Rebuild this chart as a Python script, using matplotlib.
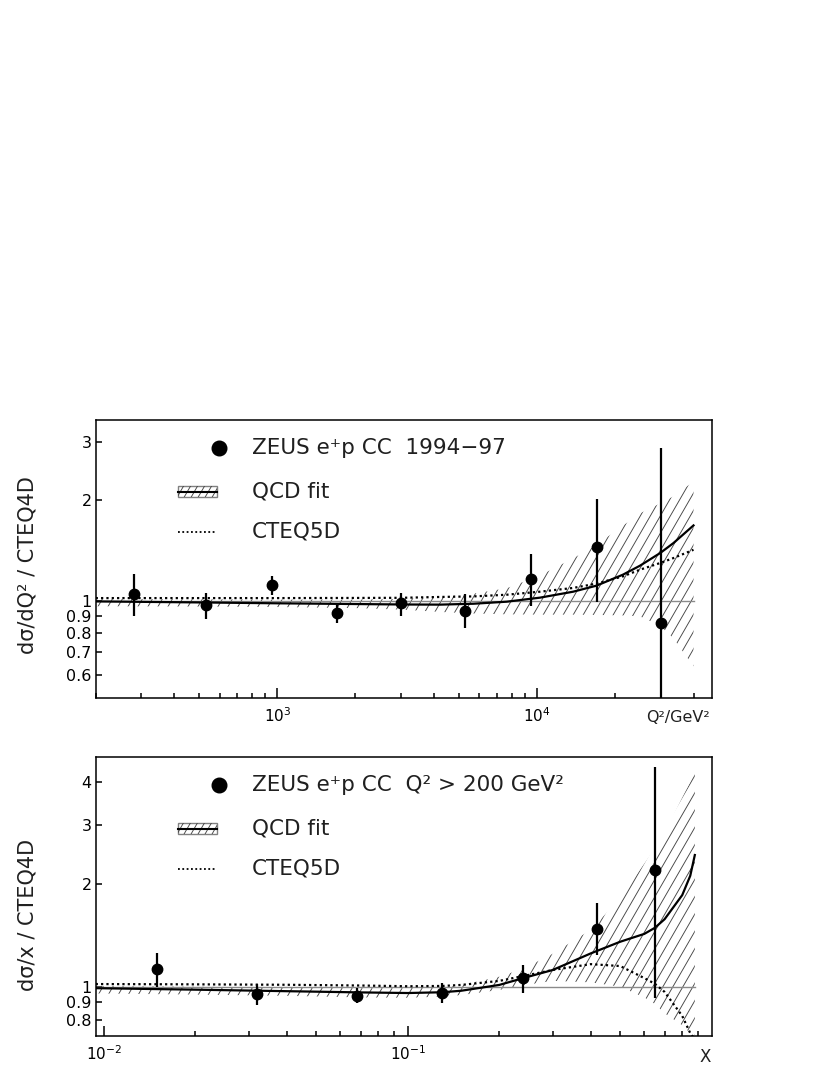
import numpy as np
import matplotlib
matplotlib.use("Agg")
import matplotlib.pyplot as plt
from matplotlib.collections import LineCollection
from matplotlib.patches import Rectangle
from matplotlib.ticker import FixedLocator, FixedFormatter, NullFormatter, LogLocator

plt.rcParams['font.family'] = ['DejaVu Sans']
plt.rcParams['mathtext.fontset'] = 'dejavusans'

# ---------------- top panel: d sigma / dQ2 ----------------
q2_points = [280, 530, 950, 1700, 3000, 5300, 9500, 17000, 30000]
q2_ratio = [1.05, 0.973, 1.117, 0.918, 0.984, 0.931, 1.162, 1.446, 0.857]
q2_err_hi = [1.205, 1.054, 1.189, 0.973, 1.054, 1.047, 1.384, 2.02, 2.87]
q2_err_lo = [0.897, 0.881, 1.042, 0.857, 0.897, 0.828, 0.961, 0.991, 0.30]

q2_grid = [200, 500, 1000, 2000, 3000, 4240, 5690, 7640, 10250, 13760,
           16900, 21400, 24900, 29800, 33500, 40000]
q2_qcd = [0.995, 0.988, 0.982, 0.977, 0.974, 0.973, 0.979, 0.993, 1.021, 1.064,
          1.109, 1.197, 1.274, 1.391, 1.490, 1.683]
q2_cteq5 = [1.018, 1.018, 1.018, 1.019, 1.02, 1.026, 1.030, 1.042, 1.064, 1.092,
            1.125, 1.183, 1.239, 1.298, 1.343, 1.422]
q2_band_lo = [0.962, 0.960, 0.957, 0.950, 0.940, 0.925, 0.915, 0.910, 0.908, 0.908,
              0.906, 0.903, 0.897, 0.840, 0.770, 0.635]
q2_band_hi = [1.012, 1.010, 1.008, 1.008, 1.012, 1.025, 1.050, 1.090, 1.190, 1.340,
              1.470, 1.680, 1.830, 1.960, 2.060, 2.280]

q2_yticks = [0.6, 0.7, 0.8, 0.9, 1, 2, 3]
q2_yticklabels = ["0.6", "0.7", "0.8", "0.9", "1", "2", "3"]
q2_xticks = [1e3, 1e4]
q2_xticklabels = [r"$10^{3}$", r"$10^{4}$"]

# ---------------- bottom panel: d sigma / dx ----------------
x_points = [0.015, 0.032, 0.068, 0.13, 0.24, 0.42, 0.65]
x_ratio = [1.127, 0.952, 0.941, 0.961, 1.060, 1.478, 2.210]
x_err_hi = [1.254, 1.015, 0.992, 1.027, 1.158, 1.758, 4.44]
x_err_lo = [0.998, 0.886, 0.894, 0.894, 0.956, 1.240, 0.924]

x_grid = [0.0094, 0.02, 0.04, 0.07, 0.1, 0.13, 0.15, 0.2, 0.24, 0.3, 0.4, 0.5,
          0.6, 0.65, 0.7, 0.8, 0.85, 0.88]
x_qcd = [0.990, 0.980, 0.970, 0.962, 0.958, 0.963, 0.973, 1.012, 1.060, 1.120,
         1.253, 1.356, 1.430, 1.490, 1.580, 1.860, 2.120, 2.440]
x_cteq5 = [1.018, 1.016, 1.013, 1.008, 1.003, 1.005, 1.012, 1.040, 1.075, 1.120,
           1.165, 1.150, 1.060, 1.020, 0.965, 0.820, 0.730, 0.700]
x_band_lo = [0.955, 0.948, 0.940, 0.930, 0.928, 0.935, 0.945, 0.978, 1.010, 1.040,
             1.030, 1.000, 0.930, 0.890, 0.835, 0.770, 0.730, 0.720]
x_band_hi = [1.005, 1.000, 0.995, 0.990, 0.990, 1.000, 1.012, 1.070, 1.130, 1.250,
             1.470, 1.820, 2.300, 2.550, 2.830, 3.600, 4.000, 4.300]

x_yticks = [0.8, 0.9, 1, 2, 3, 4]
x_yticklabels = ["0.8", "0.9", "1", "2", "3", "4"]
x_xticks = [1e-2, 1e-1]
x_xticklabels = [r"$10^{-2}$", r"$10^{-1}$"]

W, H = 830, 1075
fig = plt.figure(figsize=(W / 100, H / 100), dpi=100)

def axes_px(left, top, right, bottom):
    return fig.add_axes([left / W, 1 - bottom / H, (right - left) / W, (bottom - top) / H])

ax1 = axes_px(95.7, 420, 711.7, 698)
ax2 = axes_px(95.7, 756.7, 711.7, 1036)


def hatch_lines(ax, clip_path, clip_transform, spacing=10.0, angle=60.0,
                color='#454545', lw=0.65):
    bb = ax.get_window_extent()
    w, h = bb.width, bb.height
    run = h / np.tan(np.radians(angle))
    segs = []
    for x0 in np.arange(-run, w + spacing, spacing):
        segs.append([(x0 / w, 0.0), ((x0 + run) / w, 1.0)])
    lc = LineCollection(segs, transform=ax.transAxes, colors=color, linewidths=lw)
    lc.set_clip_path(clip_path, clip_transform)
    ax.add_collection(lc, autolim=False)
    return lc


def draw_panel(ax, xp, yp, ehi, elo, xg, qcd, cteq, blo, bhi, xlim, ylim,
               yticks, yticklabels, xticks, xticklabels, legend_title):
    ax.set_xscale('log')
    ax.set_yscale('log')
    ax.set_xlim(*xlim)
    ax.set_ylim(*ylim)

    # band (hatched)
    poly = ax.fill_between(xg, blo, bhi, facecolor='none', edgecolor='none', lw=0)
    hatch_lines(ax, poly.get_paths()[0], ax.transData)

    # reference line at 1
    ax.plot([xlim[0], xg[-1]], [1, 1], color='#8a8a8a', lw=1.0, zorder=2)

    ax.plot(xg, qcd, color='black', lw=1.6, zorder=3)
    ax.plot(xg, cteq, color='black', lw=1.6, linestyle=(0, (1, 1.4)), zorder=3)

    yp = np.array(yp)
    yerr = [yp - np.array(elo), np.array(ehi) - yp]
    ax.errorbar(xp, yp, yerr=yerr, fmt='o', color='black', ms=7.5,
                elinewidth=1.6, capsize=0, zorder=4)

    # ticks
    ax.yaxis.set_major_locator(FixedLocator(yticks))
    ax.yaxis.set_major_formatter(FixedFormatter(yticklabels))
    ax.yaxis.set_minor_locator(FixedLocator([]))
    ax.xaxis.set_major_locator(FixedLocator(xticks))
    ax.xaxis.set_major_formatter(FixedFormatter(xticklabels))
    ax.xaxis.set_minor_locator(LogLocator(base=10, subs=np.arange(2, 10)))
    ax.xaxis.set_minor_formatter(NullFormatter())
    ax.tick_params(axis='x', which='major', direction='in', length=7.5, width=1.1,
                   labelsize=11, pad=6, top=False)
    ax.tick_params(axis='x', which='minor', direction='in', length=3.8, width=1.1,
                   top=False)
    ax.tick_params(axis='y', which='major', direction='in', length=4.5, width=1.1,
                   labelsize=11.5, pad=3, right=False)
    for s in ax.spines.values():
        s.set_linewidth(1.1)

    # legend drawn by hand
    tr = ax.transAxes
    ax.plot([0.200], [0.898], 'o', color='black', ms=10.5, transform=tr, clip_on=False)
    ax.text(0.253, 0.898, legend_title, transform=tr, fontsize=15.5,
            va='center', ha='left', color='#202020')
    rect = Rectangle((0.134, 0.742 - 0.02), 0.063, 0.04, transform=tr,
                     facecolor='none', edgecolor='#808080', lw=1.0)
    ax.add_patch(rect)
    hatch_lines(ax, rect.get_path(), rect.get_transform(), spacing=7.0)
    ax.plot([0.134, 0.197], [0.742, 0.742], color='black', lw=1.5, transform=tr)
    ax.text(0.253, 0.742, "QCD fit", transform=tr, fontsize=15.5,
            va='center', ha='left', color='#202020')
    ax.plot([0.134, 0.197], [0.598, 0.598], color='black', lw=1.3,
            linestyle=(0, (1, 1.4)), transform=tr)
    ax.text(0.253, 0.598, "CTEQ5D", transform=tr, fontsize=15.5,
            va='center', ha='left', color='#202020')


draw_panel(ax1, q2_points, q2_ratio, q2_err_hi, q2_err_lo, q2_grid, q2_qcd,
           q2_cteq5, q2_band_lo, q2_band_hi, (200, 47000), (0.51, 3.49),
           q2_yticks, q2_yticklabels, q2_xticks, q2_xticklabels,
           "ZEUS e\u207ap CC  1994\u221297")
draw_panel(ax2, x_points, x_ratio, x_err_hi, x_err_lo, x_grid, x_qcd,
           x_cteq5, x_band_lo, x_band_hi, (0.0094, 1.0), (0.716, 4.75),
           x_yticks, x_yticklabels, x_xticks, x_xticklabels,
           "ZEUS e\u207ap CC  Q\u00b2 > 200 GeV\u00b2")

# axis titles
fig.text(27 / W, 1 - 565 / H, "d\u03c3/dQ\u00b2 / CTEQ4D", rotation=90,
         fontsize=15, ha='center', va='center', color='#202020')
fig.text(27 / W, 1 - 915 / H, "d\u03c3/x / CTEQ4D", rotation=90,
         fontsize=15, ha='center', va='center', color='#202020')
fig.text(678 / W, 1 - 718 / H, "Q\u00b2/GeV\u00b2", fontsize=11.5,
         ha='center', va='center', color='#202020')
fig.text(705 / W, 1 - 1057 / H, "X", fontsize=12, ha='center', va='center',
         color='#202020')

fig.savefig("out.png", dpi=100)
